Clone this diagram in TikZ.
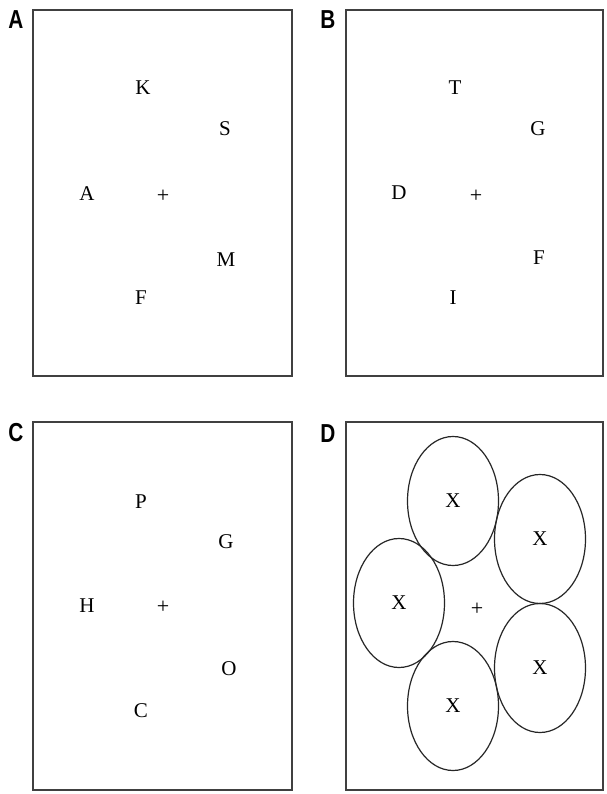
\documentclass[tikz,border=0pt]{standalone}
\usepackage{fontspec}
\setmainfont{Liberation Serif}
\newfontfamily\labfont{Liberation Sans}
\usetikzlibrary{shapes.geometric}
\begin{document}
\begin{tikzpicture}[x=1pt,y=-1pt,
  panel/.style={draw=black!75,line width=1.6pt},
  letter/.style={inner sep=0pt,font=\fontsize{21}{23}\selectfont},
  plusmark/.style={inner sep=0pt,font=\fontsize{22}{24}\selectfont},
  plabel/.style={inner sep=0pt,font=\labfont\bfseries\fontsize{26}{28}\selectfont,xscale=0.8},
  blob/.style={draw=black!85,line width=1.2pt,ellipse,minimum width=91pt,minimum height=129pt,inner sep=0pt,font=\fontsize{21}{23}\selectfont}]
\useasboundingbox (0,0) rectangle (606,794);
\fill[white] (0,0) rectangle (606,794);
% panels
\draw[panel] (33,10) rectangle (292,376);
\draw[panel] (346,10) rectangle (603,376);
\draw[panel] (33,422) rectangle (292,790);
\draw[panel] (346,422) rectangle (603,790);
% panel labels
\node[plabel] (lA) at (16,20) {A};
\node[plabel] (lB) at (328,20) {B};
\node[plabel] (lC) at (16,433) {C};
\node[plabel] (lD) at (328,434) {D};
% panel A
\node[letter] (aK) at (143,88) {K};
\node[letter] (aS) at (225,129) {S};
\node[letter] (aA) at (87,194) {A};
\node[plusmark] (aP) at (163,196) {+};
\node[letter] (aM) at (226,260) {M};
\node[letter] (aF) at (141,298) {F};
% panel B
\node[letter] (bT) at (455,88) {T};
\node[letter] (bG) at (538,129) {G};
\node[letter] (bD) at (399,193) {D};
\node[plusmark] (bP) at (476,196) {+};
\node[letter] (bF) at (539,258) {F};
\node[letter] (bI) at (453,298) {I};
% panel C
\node[letter] (cP) at (141,502) {P};
\node[letter] (cG) at (226,542) {G};
\node[letter] (cH) at (87,606) {H};
\node[plusmark] (cX) at (163,607) {+};
\node[letter] (cO) at (229,669) {O};
\node[letter] (cC) at (141,711) {C};
% panel D
\node[blob] (d1) at (453,501) {X};
\node[blob] (d2) at (540,539) {X};
\node[blob] (d3) at (399,603) {X};
\node[blob] (d4) at (540,668) {X};
\node[blob] (d5) at (453,706) {X};
\node[plusmark] (dP) at (477,609) {+};
\end{tikzpicture}
\end{document}
